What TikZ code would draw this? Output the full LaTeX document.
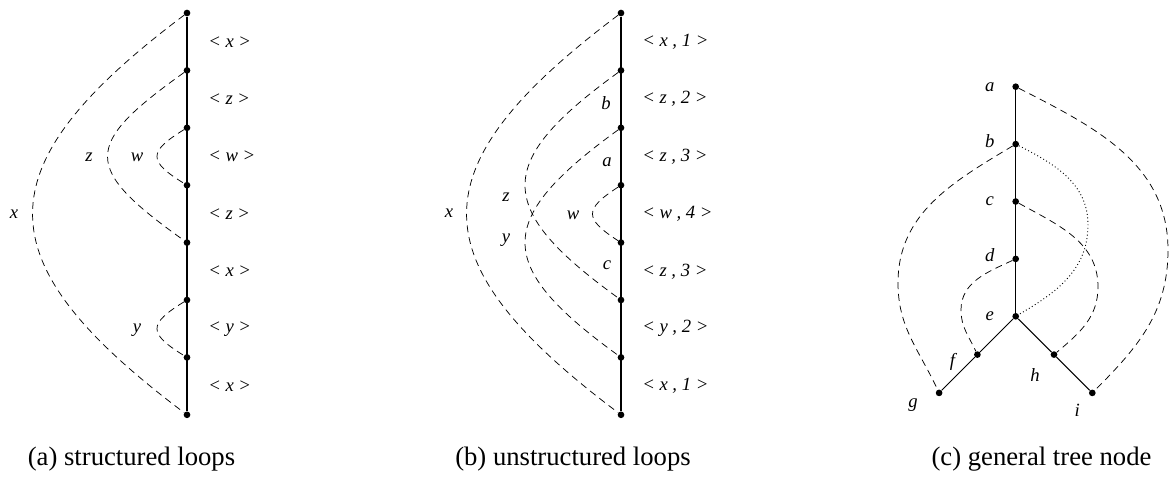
\documentclass[tikz,border=0pt]{standalone}
\usepackage{fontspec}
\setmainfont{Liberation Serif}
\usepackage{tikz}
\usetikzlibrary{positioning, calc}
\tikzstyle{dot} = [circle,
fill=black,
inner sep=0pt,
minimum size=5pt]
\tikzstyle{spine} = [line width=0.9pt]
\tikzstyle{branch} = [line width=0.7pt]
\tikzstyle{loopedge} = [line width=0.55pt, dash pattern=on 5.2pt off 3.6pt]
\tikzstyle{backedge} = [line width=0.7pt, dash pattern=on 0.7pt off 1.9pt]
\tikzstyle{seglabel} = [anchor=west, inner sep=0pt,
font=\fontsize{14}{16}\selectfont\itshape]
\tikzstyle{varlabel} = [inner sep=0pt,
font=\fontsize{14}{16}\selectfont\itshape]
\tikzstyle{caption} = [inner sep=0pt, font=\fontsize{20}{24}\selectfont]

\begin{document}
\begin{tikzpicture}[x=0.75pt, y=0.75pt, node distance=43.05pt]
                \useasboundingbox (0,0) rectangle (1171,-479);

                % (a) structured loops
                \node (a1) [dot] at (187,-13) {};
                \node (a2) [dot, below of=a1] {};
                \node (a3) [dot, below of=a2] {};
                \node (a4) [dot, below of=a3] {};
                \node (a5) [dot, below of=a4] {};
                \node (a6) [dot, below of=a5] {};
                \node (a7) [dot, below of=a6] {};
                \node (a8) [dot, below of=a7] {};
                \draw [spine] (a1) -- (a8);

                \node (sa1) [seglabel] at ($(a1)!0.5!(a2)$) [xshift=15.75pt] {< x >};
                \node (sa2) [seglabel] at ($(a2)!0.5!(a3)$) [xshift=15.75pt] {< z >};
                \node (sa3) [seglabel] at ($(a3)!0.5!(a4)$) [xshift=15.75pt] {< w >};
                \node (sa4) [seglabel] at ($(a4)!0.5!(a5)$) [xshift=15.75pt] {< z >};
                \node (sa5) [seglabel] at ($(a5)!0.5!(a6)$) [xshift=15.75pt] {< x >};
                \node (sa6) [seglabel] at ($(a6)!0.5!(a7)$) [xshift=15.75pt] {< y >};
                \node (sa7) [seglabel] at ($(a7)!0.5!(a8)$) [xshift=15.75pt] {< x >};

                \draw [loopedge] (a1) .. controls +(-205,-154) and +(-205,154) .. (a8);
                \draw [loopedge] (a2) .. controls +(-105,-75) and +(-105,75) .. (a5);
                \draw [loopedge] (a3) .. controls +(-39,-24) and +(-39,24) .. (a4);
                \draw [loopedge] (a6) .. controls +(-39,-24) and +(-39,24) .. (a7);

                \node (vax) [varlabel] at (14,-214) {x};
                \node (vaz) [varlabel] at (89,-157) {z};
                \node (vaw) [varlabel] at (137,-157) {w};
                \node (vay) [varlabel] at (137,-330) {y};

                % (b) unstructured loops
                \node (b1) [dot] at (621,-13) {};
                \node (b2) [dot, below of=b1] {};
                \node (b3) [dot, below of=b2] {};
                \node (b4) [dot, below of=b3] {};
                \node (b5) [dot, below of=b4] {};
                \node (b6) [dot, below of=b5] {};
                \node (b7) [dot, below of=b6] {};
                \node (b8) [dot, below of=b7] {};
                \draw [spine] (b1) -- (b8);

                \node (sb1) [seglabel] at ($(b1)!0.5!(b2)$) [xshift=15.75pt] {< x , 1 >};
                \node (sb2) [seglabel] at ($(b2)!0.5!(b3)$) [xshift=15.75pt] {< z , 2 >};
                \node (sb3) [seglabel] at ($(b3)!0.5!(b4)$) [xshift=15.75pt] {< z , 3 >};
                \node (sb4) [seglabel] at ($(b4)!0.5!(b5)$) [xshift=15.75pt] {< w , 4 >};
                \node (sb5) [seglabel] at ($(b5)!0.5!(b6)$) [xshift=15.75pt] {< z , 3 >};
                \node (sb6) [seglabel] at ($(b6)!0.5!(b7)$) [xshift=15.75pt] {< y , 2 >};
                \node (sb7) [seglabel] at ($(b7)!0.5!(b8)$) [xshift=15.75pt] {< x , 1 >};

                \draw [loopedge] (b1) .. controls +(-205,-154) and +(-205,154) .. (b8);
                \draw [loopedge] (b2) .. controls +(-127,-92) and +(-127,92) .. (b6);
                \draw [loopedge] (b3) .. controls +(-127,-92) and +(-127,92) .. (b7);
                \draw [loopedge] (b4) .. controls +(-37,-24) and +(-37,24) .. (b5);

                \node (vbx) [varlabel] at (449,-213) {x};
                \node (vbz) [varlabel] at (506,-197) {z};
                \node (vby) [varlabel] at (506,-240) {y};
                \node (vbw) [varlabel] at (573,-215) {w};
                \node (hb) [varlabel] at (606,-103) {b};
                \node (ha) [varlabel] at (607,-162) {a};
                \node (hc) [varlabel] at (607,-265) {c};

                % (c) general tree node
                \node (ta) [dot] at (1015.7,-86.7) {};
                \node (tb) [dot, below of=ta] {};
                \node (tc) [dot, below of=tb] {};
                \node (td) [dot, below of=tc] {};
                \node (te) [dot, below of=td] {};
                \node (tf) [dot] at ($(te)+(-38.3,-38.3)$) {};
                \node (tg) [dot] at ($(tf)+(-38.3,-38.3)$) {};
                \node (th) [dot] at ($(te)+(38.3,-38.3)$) {};
                \node (ti) [dot] at ($(th)+(38.3,-38.3)$) {};
                \draw [branch] (ta) -- (te);
                \draw [branch] (te) -- (tf) -- (tg);
                \draw [branch] (te) -- (th) -- (ti);

                \node (la) [varlabel, left of=ta, node distance=19.5pt] {a};
                \node (lb) [varlabel, left of=tb, node distance=19.5pt, yshift=2pt] {b};
                \node (lc) [varlabel, left of=tc, node distance=19.5pt] {c};
                \node (ld) [varlabel, left of=td, node distance=19.5pt, yshift=3pt] {d};
                \node (le) [varlabel, left of=te, node distance=19.5pt] {e};
                \node (lf) [varlabel] at ($(tf)+(-25,-7)$) {f};
                \node (lg) [varlabel] at ($(tg)+(-26,-12)$) {g};
                \node (lh) [varlabel] at ($(th)+(-19,-20)$) {h};
                \node (li) [varlabel] at ($(ti)+(-15,-17)$) {i};

                \coordinate (ai) at (1168,-250);
                \coordinate (bg) at (898,-283);
                \coordinate (be) at (1088,-225);
                \coordinate (ch) at (1098,-287);
                \coordinate (df) at (961,-310);
                \draw [loopedge] (ta) to[out=-27, in=90] (ai) to[out=-90, in=45] (ti);
                \draw [loopedge] (tb) to[out=211, in=90] (bg) to[out=-90, in=115] (tg);
                \draw [loopedge] (tc) to[out=-29, in=90] (ch) to[out=-90, in=40] (th);
                \draw [loopedge] (td) to[out=205, in=90] (df) to[out=-90, in=115] (tf);
                \draw [backedge] (tb) to[out=-27, in=90] (be) to[out=-90, in=30] (te);

                \node (capa) [caption] at (131.5,-459) {(a) structured loops};
                \node (capb) [caption] at (573,-459) {(b) unstructured loops};
                \node (capc) [caption] at (1041.5,-459) {(c) general tree node};
            \end{tikzpicture}
\end{document}
